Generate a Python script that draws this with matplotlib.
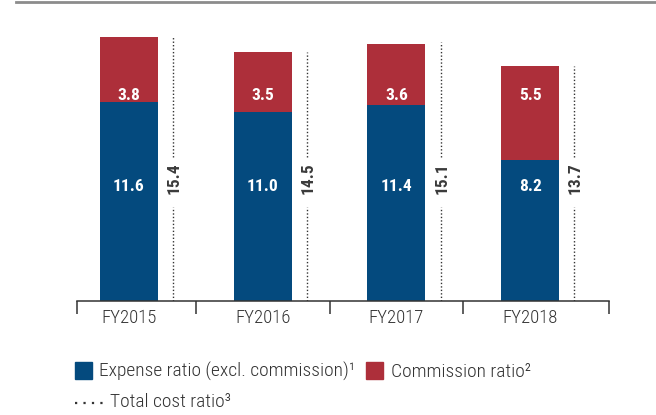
import matplotlib
matplotlib.use("Agg")
import matplotlib.pyplot as plt
from matplotlib.patches import Rectangle
from matplotlib.lines import Line2D

# Data
years = ["FY2015", "FY2016", "FY2017", "FY2018"]
expense_ratio = [11.6, 11.0, 11.4, 8.2]
commission_ratio = [3.8, 3.5, 3.6, 5.5]
total_ratio = [15.4, 14.5, 15.1, 13.7]

blue = "#044a7e"
red = "#ad2f3a"
dark = "#333333"
fam = ["Roboto Condensed", "Liberation Sans", "DejaVu Sans"]
plt.rcParams["font.family"] = fam

W, H = 656, 415
fig = plt.figure(figsize=(W / 100, H / 100), dpi=100)

def fx(px):
    return px / W

def fy(py):
    return 1 - py / H

# axis spans 77..609 px, categories every 133.7 px, first centre at 129 px
ax = fig.add_axes([fx(77), fy(301), fx(609) - fx(77), fy(20) - fy(301)])
step = 133.7
x_lo, x_hi = -52 / step, 480 / step

x = list(range(len(years)))
bw = 0.434
ax.bar(x, expense_ratio, width=bw, color=blue, zorder=2)
ax.bar(x, commission_ratio, width=bw, bottom=expense_ratio, color=red, zorder=2)

# value labels (fixed heights like the original)
for i in x:
    ax.text(i, 6.7, f"{expense_ratio[i]:.1f}", color="white", fontsize=12.5,
            fontweight="bold", ha="center", va="center", zorder=3)
    ax.text(i, 12.0, f"{commission_ratio[i]:.1f}", color="white", fontsize=12.5,
            fontweight="bold", ha="center", va="center", zorder=3)

# total cost ratio dotted lines with rotated label
off = 0.33
for i in x:
    xi = i + off
    ax.vlines(xi, 0, 5.5, colors="#333333", linestyles=(0, (1, 1.5)), lw=1)
    ax.vlines(xi, 8.4, total_ratio[i], colors="#333333", linestyles=(0, (1, 1.5)), lw=1)
    ax.text(xi + 0.01, 7.15, f"{total_ratio[i]:.1f}", color="#3a3a3a", fontsize=12.5,
            fontweight="bold", rotation=90, ha="center", va="center")

ax.set_xlim(x_lo, x_hi)
ax.set_ylim(0, 281 / 17.15)

for s in ["top", "left", "right"]:
    ax.spines[s].set_visible(False)
ax.spines["bottom"].set_color(dark)
ax.spines["bottom"].set_linewidth(1.1)
ax.set_yticks([])

ax.set_xticks([x_lo, 0.5, 1.5, 2.5, x_hi])
ax.set_xticklabels([])
ax.tick_params(axis="x", which="major", length=9.5, width=1.1, color=dark, direction="out")
ax.set_xticks(x, minor=True)
ax.set_xticklabels(years, minor=True, fontweight="light")
ax.tick_params(axis="x", which="minor", length=0, pad=6, labelsize=13.5, labelcolor=dark)

# top rule
fig.add_artist(Line2D([fx(16), 1], [fy(2), fy(2)], color="#8c8c8c", lw=2))

# legend (built by hand to match the layout)
leg_col = "#333333"
fig.add_artist(Rectangle((fx(75), fy(379)), fx(92) - fx(75), fy(362) - fy(379),
                         color=blue, transform=fig.transFigure))
fig.text(fx(99), fy(371.5), "Expense ratio (excl. commission)\u00b9", fontsize=14,
         fontweight="light", color=leg_col, va="center", ha="left")
fig.add_artist(Rectangle((fx(366), fy(379)), fx(383) - fx(366), fy(362) - fy(379),
                         color=red, transform=fig.transFigure))
fig.text(fx(391), fy(371.5), "Commission ratio\u00b2", fontsize=14,
         fontweight="light", color=leg_col, va="center", ha="left")
fig.add_artist(Line2D([fx(75), fx(103)], [fy(403), fy(403)], color="#333333",
                      lw=1.6, linestyle=(0, (1, 2.8))))
fig.text(fx(110), fy(402), "Total cost ratio\u00b3", fontsize=14,
         fontweight="light", color=leg_col, va="center", ha="left")

fig.savefig("out.png", dpi=100)
